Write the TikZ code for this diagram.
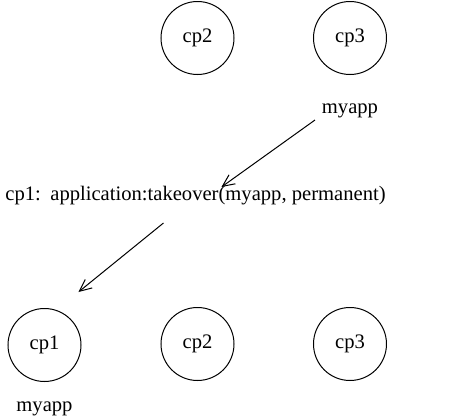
\documentclass[tikz,border=0pt]{standalone}
\usepackage{fontspec}
\setmainfont{Liberation Serif}
\usetikzlibrary{arrows.meta,calc}

\begin{document}
\begin{tikzpicture}[x=0.5pt,y=-0.5pt]

	\tikzstyle{cp}=[circle,draw,line width=0.5pt,minimum size=36.5pt,
		inner sep=0pt,font=\fontsize{10.3}{12}\selectfont]
	\tikzstyle{txt}=[inner sep=0pt,anchor=base,font=\fontsize{10.3}{12}\selectfont]
	\tikzstyle{arrow}=[-{Straight Barb[length=6pt,width=5.5pt]},line width=0.5pt]

	\useasboundingbox (0,0) rectangle (473,418);

	% before the takeover
	\node[cp](cp2top) at (197.5,38){cp2};
	\node[cp](cp3top) at (350,38){cp3};
	\node[txt](apptop) at (350,113){myapp};

	% the call
	\node[txt,anchor=base west](caller) at (5,200){cp1:};
	\node[txt,anchor=base west](call) at (50,200){application:takeover(myapp, permanent)};

	% after the takeover
	\node[cp](cp1bot) at (44.5,345){cp1};
	\node[cp](cp2bot) at (197.5,344){cp2};
	\node[cp](cp3bot) at (350,344){cp3};
	\node[txt](appbot) at (44.5,411){myapp};

	\coordinate (a1from) at ($(apptop.base)+(-35,7)$);
	\coordinate (a1to) at ($(call.base)+(3.5,-13)$);
	\coordinate (a2from) at ($(call.base)+(-54.5,23)$);
	\coordinate (a2to) at ($(cp1bot)+(34,-53)$);

	\draw[arrow] (a1from) -- (a1to);
	\draw[arrow] (a2from) -- (a2to);

\end{tikzpicture}
\end{document}
